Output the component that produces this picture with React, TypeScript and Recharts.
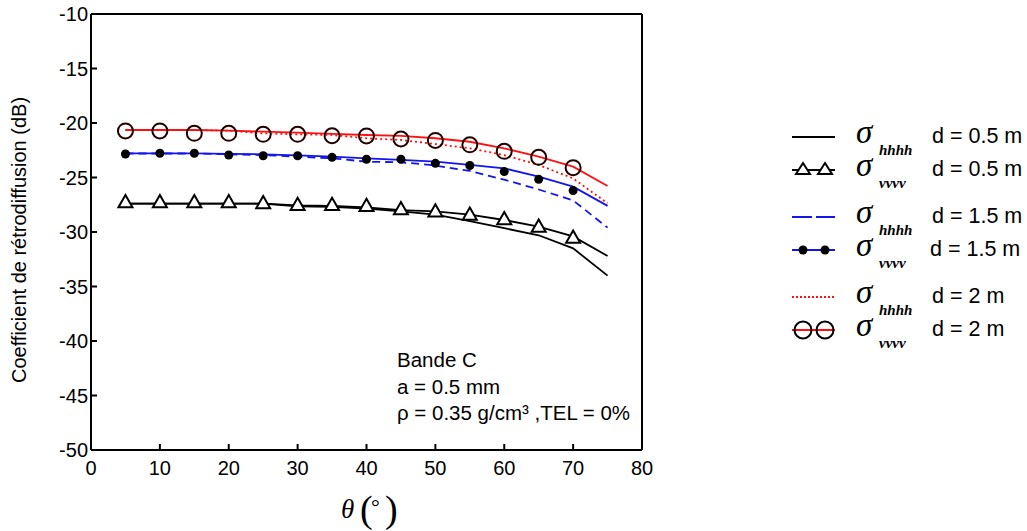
import React from "react";
import { LineChart, Line, XAxis, YAxis, ReferenceLine } from "recharts";

// incidence angle (deg)
const angles = [5, 10, 15, 20, 25, 30, 35, 40, 45, 50, 55, 60, 65, 70, 75];

// d = 0.5 m
const hhhh05 = [-27.4, -27.4, -27.4, -27.4, -27.4, -27.65, -27.7, -27.85, -28.1, -28.4, -29.0, -29.65, -30.3, -31.5, -34.0];
const vvvv05 = [-27.4, -27.4, -27.4, -27.4, -27.4, -27.55, -27.6, -27.75, -28.0, -28.1, -28.4, -28.9, -29.5, -30.4, -32.2];
const vvvv05Marks = [-27.25, -27.25, -27.25, -27.25, -27.35, -27.5, -27.5, -27.6, -27.9, -28.1, -28.4, -28.8, -29.5, -30.5];

// d = 1.5 m
const hhhh15 = [-22.8, -22.8, -22.8, -22.87, -22.94, -23.09, -23.24, -23.55, -23.6, -23.9, -24.4, -25.2, -26.1, -27.1, -29.6];
const vvvv15 = [-22.78, -22.78, -22.78, -22.84, -22.87, -22.97, -23.09, -23.24, -23.39, -23.55, -23.85, -24.16, -24.92, -25.84, -27.6];
const vvvv15Marks = [-22.84, -22.78, -22.78, -22.94, -23.0, -23.0, -23.15, -23.33, -23.33, -23.7, -23.9, -24.46, -25.17, -26.2];

// d = 2 m
const hhhh2 = [-20.64, -20.64, -20.64, -20.7, -20.95, -21.04, -21.1, -21.4, -21.56, -21.93, -22.32, -22.94, -23.85, -25.08, -27.37];
const vvvv2 = [-20.64, -20.64, -20.64, -20.7, -20.8, -20.89, -21.0, -21.1, -21.19, -21.4, -21.72, -22.32, -23.09, -24.01, -25.78];
const vvvv2Marks = [-20.73, -20.73, -20.95, -20.95, -21.04, -21.04, -21.17, -21.19, -21.47, -21.6, -22.0, -22.6, -23.15, -24.1];

const xTicks = [0, 10, 20, 30, 40, 50, 60, 70, 80];
const yTicks = [-10, -15, -20, -25, -30, -35, -40, -45, -50];

const legendLabels = ["d = 0.5 m", "d = 0.5 m", "d = 1.5 m", "d = 1.5 m", "d = 2 m", "d = 2 m"];
const notes = ["Bande C", "a = 0.5 mm", "ρ = 0.35 g/cm³ ,TEL = 0%"];

const rows = angles.map((x, i) => ({
  x,
  h05: hhhh05[i], v05: vvvv05[i], m05: vvvv05Marks[i],
  h15: hhhh15[i], v15: vvvv15[i], m15: vvvv15Marks[i],
  h2: hhhh2[i], v2: vvvv2[i], m2: vvvv2Marks[i],
}));

const BLUE = "#1414ee";
const RED = "#ff1010";
const SANS = "Liberation Sans, Arial, sans-serif";
const SERIF = "Liberation Serif, Times New Roman, serif";

const Tri = (p: any) => {
  if (p.cy == null || p.value == null) return <g key={p.index} />;
  const s = 7;
  return (
    <path key={p.index} d={`M${p.cx},${p.cy - s} L${p.cx + s},${p.cy + s * 0.75} L${p.cx - s},${p.cy + s * 0.75} Z`}
      fill="#fff" stroke="#000" strokeWidth={2} />
  );
};
const Dot = (p: any) => {
  if (p.cy == null || p.value == null) return <g key={p.index} />;
  return <circle key={p.index} cx={p.cx} cy={p.cy} r={4.5} fill="#000" />;
};
const Ring = (p: any) => {
  if (p.cy == null || p.value == null) return <g key={p.index} />;
  return <circle key={p.index} cx={p.cx} cy={p.cy} r={7.5} fill="none" stroke="#220000" strokeWidth={2} />;
};

function LegendRow({ y, color, dash, marker, sub, label, tx }: any) {
  return (
    <g>
      <line x1={792} x2={835} y1={y} y2={y} stroke={color} strokeWidth={2} strokeDasharray={dash} />
      {[803, 825].map((cx) =>
        marker === "tri" ? (
          <path key={cx} d={`M${cx},${y - 7} L${cx + 7},${y + 4} L${cx - 7},${y + 4} Z`} fill="#fff" stroke="#000" strokeWidth={2} />
        ) : marker === "dot" ? (
          <circle key={cx} cx={cx} cy={y} r={4.5} fill="#000" />
        ) : marker === "ring" ? (
          <circle key={cx} cx={cx} cy={y} r={8.5} fill="none" stroke="#000" strokeWidth={2} />
        ) : null
      )}
      <text x={856} y={y + 6} fontFamily={SERIF} fontStyle="italic" fontSize={33}>σ</text>
      <text x={879} y={y + 18} fontFamily={SERIF} fontStyle="italic" fontWeight="bold" fontSize={15}>{sub}</text>
      <text x={tx} y={y + 6} fontFamily={SANS} fontSize={21.5}>{label}</text>
    </g>
  );
}

export default function App() {
  const legend = [
    { y: 137, color: "#000", dash: undefined, marker: null, sub: "hhhh", tx: 932 },
    { y: 170, color: "#000", dash: undefined, marker: "tri", sub: "vvvv", tx: 932 },
    { y: 217, color: BLUE, dash: "20 4", marker: null, sub: "hhhh", tx: 932 },
    { y: 250, color: BLUE, dash: undefined, marker: "dot", sub: "vvvv", tx: 930 },
    { y: 297, color: RED, dash: "2 2", marker: null, sub: "hhhh", tx: 932 },
    { y: 330, color: RED, dash: undefined, marker: "ring", sub: "vvvv", tx: 932 },
  ];
  return (
    <div style={{ position: "absolute", left: 0, top: 0, width: 1027, height: 531, background: "#fff" }}>
      <LineChart width={1027} height={531} data={rows} margin={{ top: 14, right: 385, bottom: 51, left: 31 }}>
        <XAxis dataKey="x" type="number" domain={[0, 80]} ticks={xTicks} height={30}
          axisLine={{ stroke: "#000", strokeWidth: 2 }} tickLine={{ stroke: "#000", strokeWidth: 2 }}
          tickSize={-6} tickMargin={17} tick={{ fill: "#000", fontSize: 20, fontFamily: SANS }} />
        <YAxis type="number" domain={[-50, -10]} ticks={yTicks} width={60}
          axisLine={{ stroke: "#000", strokeWidth: 2 }} tickLine={{ stroke: "#000", strokeWidth: 2 }}
          tickSize={-6} tickMargin={9} tick={{ fill: "#000", fontSize: 20, fontFamily: SANS }} />
        <ReferenceLine y={-10} stroke="#000" strokeWidth={2} />
        <ReferenceLine x={80} stroke="#000" strokeWidth={2} />
        <Line dataKey="h05" stroke="#000" strokeWidth={1.8} dot={false} isAnimationActive={false} />
        <Line dataKey="v05" stroke="#000" strokeWidth={1.8} dot={false} isAnimationActive={false} />
        <Line dataKey="h15" stroke={BLUE} strokeWidth={1.8} strokeDasharray="8 5" dot={false} isAnimationActive={false} />
        <Line dataKey="v15" stroke={BLUE} strokeWidth={1.8} dot={false} isAnimationActive={false} />
        <Line dataKey="h2" stroke={RED} strokeWidth={1.8} strokeDasharray="2 3" dot={false} isAnimationActive={false} />
        <Line dataKey="v2" stroke={RED} strokeWidth={1.8} dot={false} isAnimationActive={false} />
        <Line dataKey="m05" stroke="none" dot={Tri} activeDot={false} isAnimationActive={false} />
        <Line dataKey="m15" stroke="none" dot={Dot} activeDot={false} isAnimationActive={false} />
        <Line dataKey="m2" stroke="none" dot={Ring} activeDot={false} isAnimationActive={false} />
      </LineChart>
      <svg width={1027} height={531} style={{ position: "absolute", left: 0, top: 0, pointerEvents: "none" }}>
        <text transform="translate(26,240) rotate(-90)" textAnchor="middle" fontFamily={SANS} fontSize={20}>
          Coefficient de rétrodiffusion (dB)
        </text>
        <text x={341} y={518} fontFamily={SERIF} fontStyle="italic" fontSize={27}>θ</text>
        <text x={360} y={522} fontFamily={SERIF} fontSize={38}>(</text>
        <text x={371} y={514} fontFamily={SERIF} fontSize={22}>°</text>
        <text x={385} y={522} fontFamily={SERIF} fontSize={38}>)</text>
        {notes.map((t, i) => (
          <text key={i} x={397} y={367 + i * 26.5} fontFamily={SANS} fontSize={20.5}>{t}</text>
        ))}
        {legend.map((r, i) => (
          <LegendRow key={i} {...r} label={legendLabels[i]} />
        ))}
      </svg>
    </div>
  );
}
